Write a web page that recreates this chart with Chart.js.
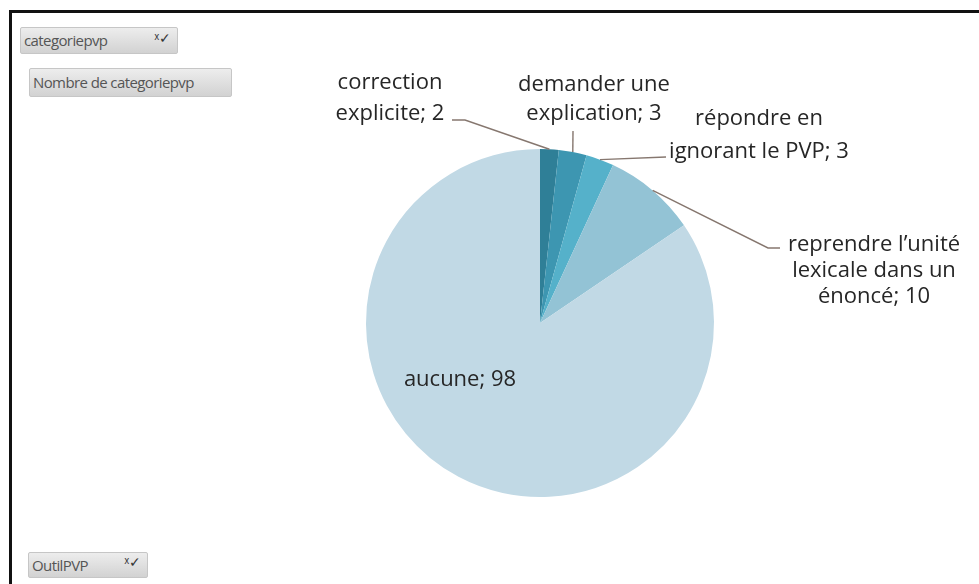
<!DOCTYPE html>
<html>
<head>
<meta charset="utf-8">
<script src="https://cdn.jsdelivr.net/npm/chart.js@4.4.0/dist/chart.umd.min.js"></script>
<style>
  body { margin: 0; background: #fff; width: 979px; height: 584px; overflow: hidden; position: relative; font-family: "Open Sans", sans-serif; }
  #frame { position: absolute; left: 9px; top: 10px; right: -5px; bottom: -5px; border-top: 3px solid #111; border-left: 3px solid #111; }
  #pie { position: absolute; left: 0; top: 0; }
  .btn {
    position: absolute; box-sizing: border-box;
    background: linear-gradient(#ededed, #d2d2d2); border: 1px solid #c6c6c6; border-radius: 2px;
    font-size: 15px; color: #555; padding-left: 3px; letter-spacing: -0.6px;
  }
  .btn .ico { position: absolute; right: 7px; top: -3px; font-size: 14px; color: #333; }
</style>
</head>
<body>
<div id="frame"></div>
<div class="btn" style="left:20px; top:27px; width:158px; height:27px; line-height:25px;">categoriepvp<span class="ico">&#x2e3;&#x2713;</span></div>
<div class="btn" style="left:29px; top:68px; width:203px; height:29px; line-height:27px;">Nombre de categoriepvp</div>
<div class="btn" style="left:28px; top:552px; width:120px; height:26px; line-height:24px;">OutilPVP<span class="ico">&#x2e3;&#x2713;</span></div>
<canvas id="pie" width="979" height="584"></canvas>
<script>
/* ==========================
   DATA
========================== */
const categories = [
    "correction explicite",
    "demander une explication",
    "répondre en ignorant le PVP",
    "reprendre l’unité lexicale dans un énoncé",
    "aucune"
];
const counts = [2, 3, 3, 10, 98];

// label text as broken into lines on the picture
const labelLines = [
    ["correction", "explicite; 2"],
    ["demander une", "explication; 3"],
    ["répondre en", "ignorant le PVP; 3"],
    ["reprendre l’unité", "lexicale dans un", "énoncé; 10"],
    ["aucune; 98"]
];

const sliceColors = ["#2f7f97", "#3d96b1", "#55b1ca", "#93c3d5", "#c1d9e5"];

/* ==========================
   LABEL LAYOUT
========================== */
// center x, first line y, line step, leader start point(s) (null = no leader)
const labelLayout = [
    { x: 390, y: 83, step: 31, lead: [[452, 120], [465, 120]] },
    { x: 594, y: 85, step: 29, lead: [[573, 131]] },
    { x: 759, y: 119, step: 33, lead: [[666, 157]] },
    { x: 874, y: 245, step: 26, lead: [[780, 248], [768, 248]] },
    { x: 460, y: 380, step: 30, lead: null }
];

const labelPlugin = {
    id: "excelLabels",
    afterDatasetsDraw(chart) {
        const ctx = chart.ctx;
        const arcs = chart.getDatasetMeta(0).data;
        ctx.save();

        arcs.forEach((arc, i) => {
            const layout = labelLayout[i];
            if (layout.lead) {
                const mid = (arc.startAngle + arc.endAngle) / 2;
                const ex = arc.x + Math.cos(mid) * arc.outerRadius;
                const ey = arc.y + Math.sin(mid) * arc.outerRadius;
                ctx.strokeStyle = "#86776f";
                ctx.lineWidth = 1.4;
                ctx.beginPath();
                ctx.moveTo(layout.lead[0][0], layout.lead[0][1]);
                layout.lead.slice(1).forEach(p => ctx.lineTo(p[0], p[1]));
                ctx.lineTo(ex, ey);
                ctx.stroke();
            }

            ctx.font = "22px 'Open Sans', sans-serif";
            ctx.fillStyle = "#262626";
            ctx.textAlign = "center";
            ctx.textBaseline = "middle";
            labelLines[i].forEach((line, k) => {
                ctx.fillText(line, layout.x, layout.y + k * layout.step);
            });
        });

        ctx.restore();
    }
};

/* ==========================
   CHART
========================== */
new Chart(document.getElementById("pie"), {
    type: "pie",
    data: {
        labels: categories,
        datasets: [{
            data: counts,
            backgroundColor: sliceColors,
            borderWidth: 0
        }]
    },
    options: {
        responsive: false,
        animation: false,
        layout: { padding: { left: 366, right: 265, top: 149, bottom: 87 } },
        plugins: {
            legend: { display: false },
            tooltip: { enabled: false }
        }
    },
    plugins: [labelPlugin]
});
</script>
</body>
</html>
